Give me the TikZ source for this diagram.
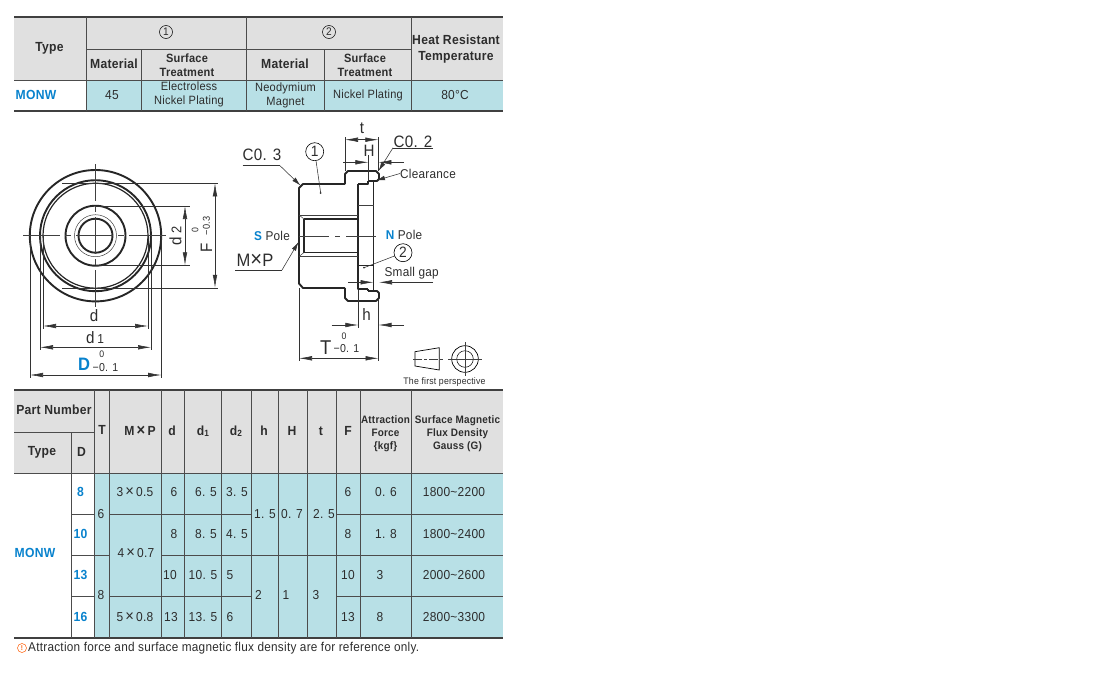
\documentclass[tikz,border=0pt]{standalone}
\usepackage{fontspec}
\setmainfont[FakeStretch=0.92,LetterSpace=2]{Liberation Sans}
\usetikzlibrary{arrows.meta}
\definecolor{headgray}{RGB}{224,224,224}
\definecolor{cellblue}{RGB}{184,224,230}
\definecolor{keyblue}{RGB}{8,130,205}
\definecolor{inkgray}{RGB}{45,45,45}
\newcommand{\lowidx}[1]{\raisebox{-1pt}{\fontsize{9}{9}\selectfont #1}}
\newcommand{\mulsign}{\,{\fontsize{16}{14}\selectfont ×}\,}
\begin{document}
\begin{tikzpicture}[x=1pt,y=-1pt,
      every node/.style={inner sep=0pt,align=center,text=inkgray},
      heavy/.style={line width=1.9pt,black!85,line join=round},
      medium/.style={line width=1.2pt,black!85},
      fine/.style={line width=0.5pt,black!75},
      rule/.style={line width=1pt,black!70},
      tablerule/.style={line width=1.8pt,black!75},
      dimline/.style={line width=0.55pt,black!80},
      dimtips/.style={dimline,{Latex[length=13pt,width=4.6pt]}-{Latex[length=13pt,width=4.6pt]}},
      pointtip/.style={dimline,-{Latex[length=13pt,width=4.6pt]}},
      leadtip/.style={dimline,-{Latex[length=9pt,width=4.6pt]}},
      centerline/.style={line width=0.7pt,black!75,dash pattern=on 37pt off 5pt on 6pt off 5pt},
      head/.style={font=\fontsize{13.2}{14}\bfseries\selectfont},
      headsmall/.style={font=\fontsize{12}{14}\bfseries\selectfont},
      headtight/.style={font=\fontsize{10.8}{13}\bfseries\selectfont},
      val/.style={font=\fontsize{13}{14}\selectfont},
      valsmall/.style={font=\fontsize{12}{14}\selectfont},
      note/.style={font=\fontsize{12.8}{14}\selectfont},
      big/.style={font=\fontsize{16.5}{17}\selectfont},
      tiny/.style={font=\fontsize{9.5}{9}\selectfont},
      smallval/.style={font=\fontsize{11.5}{12}\selectfont},
      key/.style={font=\fontsize{13.2}{14}\bfseries\selectfont,text=keyblue},
      balloon/.style={circle,draw,line width=0.6pt,minimum size=18pt,font=\fontsize{15}{15}\selectfont}]
    \useasboundingbox (0,0) rectangle (1100,672);

    \fill[headgray] (14,17) rectangle (503,80.5);
    \fill[cellblue] (86,80.5) rectangle (503,111);
    \fill[headgray] (14,390) rectangle (503,473);
    \fill[cellblue] (94.5,473) rectangle (503,637);

    \draw[tablerule] (14,17) -- (503,17);
    \draw[tablerule] (14,111) -- (503,111);
    \draw[rule] (86,49) -- (411,49);
    \draw[rule] (14,80.5) -- (503,80.5);
    \foreach \colx in {86,246.5,411}
      \draw[rule] (\colx,17) -- (\colx,111);
    \foreach \colx in {141,324}
      \draw[rule] (\colx,49) -- (\colx,111);

    \draw[tablerule] (14,390) -- (503,390);
    \draw[tablerule] (14,638) -- (503,638);
    \draw[rule] (14,432) -- (94.5,432);
    \draw[rule] (14,473) -- (503,473);
    \draw[rule] (71,432) -- (71,638);
    \foreach \colx in {94.5,109.5,161.5,184,221.5,251.5,278.5,307.5,336.5,360.5,411.5}
      \draw[rule] (\colx,390) -- (\colx,638);
    \foreach \rowy in {514.5,596.5} {
      \draw[rule] (71,\rowy) -- (94.5,\rowy);
      \draw[rule] (109.5,\rowy) -- (251.5,\rowy);
      \draw[rule] (336.5,\rowy) -- (503,\rowy);
    }
    \draw[rule] (71,555.5) -- (109.5,555.5);
    \draw[rule] (161.5,555.5) -- (503,555.5);

    \node[head] (typeA) at (49.5,48) {Type};
    \node[balloon,minimum size=13pt,line width=0.5pt,font=\fontsize{11}{11}\selectfont] (partA) at (166,32) {1};
    \node[balloon,minimum size=13pt,line width=0.5pt,font=\fontsize{11}{11}\selectfont] (partB) at (329,32) {2};
    \foreach \tx/\ty/\ttext [count=\i] in {114/64/Material,285/64/Material,456/49/{Heat Resistant\\[2pt]Temperature}}
      \node[head] (headA\i) at (\tx,\ty) {\ttext};
    \foreach \tx/\ty [count=\i] in {187/65,365/65}
      \node[headsmall] (treat\i) at (\tx,\ty) {Surface\\Treatment};
    \node[key] (seriesA) at (36,95) {MONW};
    \foreach \tx/\ty/\ttext [count=\i] in {112/95/45,455/95/{80°C}}
      \node[val] (cellA\i) at (\tx,\ty) {\ttext};
    \foreach \tx/\ty/\ttext [count=\i] in {189/94.5/{Electroless\\Nickel Plating},
        285.5/95/{Neodymium\\Magnet},368/95/{Nickel Plating}}
      \node[valsmall] (finish\i) at (\tx,\ty) {\ttext};

    \foreach \tx/\ty/\ttext [count=\i] in {54/410/{Part Number},42/452/Type,81.5/452/D,102/430/T,
        140/431/{M\mulsign P},172/431/d,203/431/{d\lowidx{1}},236/431/{d\lowidx{2}},264/431/h,292/431/H,321/431/t,348/431/F}
      \node[head] (headB\i) at (\tx,\ty) {\ttext};
    \node[headtight] (headforce) at (385.5,433.5) {Attraction\\Force\\\{kgf\}};
    \node[headtight] (headgauss) at (457.5,433.5) {Surface Magnetic\\Flux Density\\Gauss (G)};
    \node[key] (seriesB) at (35,553) {MONW};
    \foreach \ty/\ttext [count=\i] in {492/8,534/10,575/13,617/16}
      \node[key] (sizeD\i) at (80.5,\ty) {\ttext};
    \foreach \tx/\ty/\ttext [count=\i] in {101/514/6,101/595/8,135/492/{3\mulsign 0.5},136/553/{4\mulsign 0.7},135/617/{5\mulsign 0.8},
        174/492/6,174/534/8,170/575/10,171/617/13,
        206/492/{6. 5},206/534/{8. 5},203/575/{10. 5},203/617/{13. 5},
        237/492/{3. 5},237/534/{4. 5},230/575/5,230/617/6,
        265/514/{1. 5},258.5/595/2,292/514/{0. 7},286/595/1,324/514/{2. 5},316/595/3,
        348/492/6,348/534/8,348/575/10,348/617/13,
        386/492/{0. 6},386/534/{1. 8},380/575/3,380/617/8,
        454/492/1800\string~2200,454/534/1800\string~2400,454/575/2000\string~2600,454/617/2800\string~3300}
      \node[val] (cellB\i) at (\tx,\ty) {\ttext};

    \node[circle,draw=orange!70!red,line width=0.5pt,minimum size=9pt,text=orange!70!red,font=\fontsize{7}{7}\bfseries\selectfont] (warn) at (22,648) {!};
    \node[note,right] (footnote) at (28,648) {Attraction force and surface magnetic flux density are for reference only.};

    \foreach \rad in {65.7,55.5,30,17}
      \draw[heavy] (95.5,235.7) circle (\rad pt);
    \draw[medium] (95.5,235.7) circle (52.5pt);
    \draw[fine] (95.5,235.7) circle (21pt);
    \draw[centerline] (23,235.7) -- (169,235.7);
    \draw[centerline] (95.5,164) -- (95.5,307);

    \draw[dimline] (62,183.3) -- (218,183.3);
    \draw[dimline] (62,287.8) -- (218,287.8);
    \draw[dimline] (95.5,206) -- (190,206);
    \draw[dimline] (95.5,265.3) -- (190,265.3);
    \draw[dimtips] (215,183.3) -- (215,287.8);
    \draw[dimtips] (185,206) -- (185,265.3);
    \draw[dimline] (30,236) -- (30,378);
    \draw[dimline] (161.2,236) -- (161.2,378);
    \draw[dimline] (40,236) -- (40,350);
    \draw[dimline] (151,236) -- (151,350);
    \draw[dimline] (43,236) -- (43,329);
    \draw[dimline] (148,236) -- (148,329);
    \draw[dimtips] (30,375) -- (161.2,375);
    \draw[dimtips] (40,347.3) -- (151,347.3);
    \draw[dimtips] (43,326) -- (148,326);

    \node[big] (labd) at (94,315.5) {d};
    \node[big] (labdone) at (95,338) {d\,\fontsize{13}{13}\selectfont 1};
    \node[font=\fontsize{18}{18}\bfseries\selectfont,text=keyblue] (labD) at (84,364.5) {D};
    \node[tiny] (labDup) at (101.7,354) {0};
    \node[smallval] (labDlow) at (105.5,367.5) {−0. 1};
    \node[big,rotate=90] (labdtwo) at (175.5,236) {d\,\fontsize{14}{14}\selectfont 2};
    \node[big,rotate=90] (labF) at (206.5,248) {F};
    \node[tiny,rotate=90] (labFup) at (195,230) {0};
    \node[rotate=90,font=\fontsize{10}{10}\selectfont] (labFlow) at (206.5,226) {−0.3};

    \draw[heavy] (345,184) -- (303,184) -- (299,188) -- (299,283.5) -- (303,288) -- (345,288);
    \draw[heavy] (345,184) -- (345,174) -- (348,171) -- (376,171) -- (379,174) -- (379,179)
      -- (377,181) -- (368,181);
    \draw[heavy] (345,288) -- (345,298) -- (348,301) -- (376,301) -- (379,298) -- (379,293)
      -- (377,291) -- (368,291);
    \draw[heavy] (358,184) -- (358,289) -- (368,289);
    \draw[heavy] (358,184) -- (368,184) -- (368,181);
    \draw[heavy] (368,289) -- (368,291);
    \draw[heavy] (373.5,181) -- (373.5,291);
    \draw[medium] (304,219) -- (358,219);
    \draw[medium] (304,252.5) -- (358,252.5);
    \draw[heavy] (304,219) -- (304,252.5);
    \draw[fine] (299,215) -- (358,215);
    \draw[fine] (299,256.5) -- (358,256.5);
    \draw[fine] (299,215) -- (304,219);
    \draw[fine] (299,256.5) -- (304,252.5);
    \draw[fine] (358,205.7) -- (373.5,205.7);
    \draw[medium] (358,265.7) -- (373.5,265.7);
    \draw[centerline,dash pattern=on 30pt off 6pt on 5pt off 6pt] (299,236) -- (378,236);

    \coordinate (tleft) at (345,139.7);
    \coordinate (tright) at (378.3,139.7);
    \draw[dimline] (345,137) -- (345,171);
    \draw[dimline] (378.3,137) -- (378.3,171);
    \draw[dimtips] (tleft) -- (tright);
    \node[big] (labt) at (362,128) {t};

    \coordinate (Hleft) at (343,162.3);
    \coordinate (Hin) at (368.3,162.3);
    \coordinate (Hout) at (378.3,162.3);
    \coordinate (Hright) at (404,162.3);
    \draw[dimline] (368.3,155) -- (368.3,181);
    \draw[pointtip] (Hleft) -- (Hin);
    \draw[pointtip] (Hright) -- (Hout);
    \node[big] (labH) at (369,150.5) {H};

    \node[big] (labCa) at (413,141.5) {C0. 2};
    \coordinate (Cabar) at (393,147.8);
    \coordinate (Caend) at (433,147.8);
    \coordinate (Catip) at (378.5,171);
    \draw[dimline] (Caend) -- (Cabar);
    \draw[leadtip] (Cabar) -- (Catip);

    \node[big] (labCb) at (262,155) {C0. 3};
    \coordinate (Cbbar) at (280,165.7);
    \coordinate (Cbend) at (242.7,165.7);
    \coordinate (Cbtip) at (300.5,185.5);
    \draw[dimline] (Cbend) -- (Cbbar);
    \draw[leadtip] (Cbbar) -- (Cbtip);

    \node[balloon] (itemA) at (314.7,151.7) {1};
    \node[balloon] (itemB) at (403,252.7) {2};
    \fill[black!80] (320.7,193) circle (1pt) coordinate (dotA);
    \fill[black!80] (364,267.7) circle (1pt) coordinate (dotB);
    \draw[dimline] (itemA) -- (dotA);
    \draw[dimline] (itemB) -- (dotB);

    \node[note,right] (labclear) at (400,173.5) {Clearance};
    \coordinate (cleartip) at (376,180.5);
    \draw[leadtip] (labclear.west) -- (cleartip);

    \node[note] (labS) at (272,235.5) {\textcolor{keyblue}{\bfseries S} Pole};
    \node[note] (labN) at (404,234.5) {\textcolor{keyblue}{\bfseries N} Pole};

    \node[font=\fontsize{18}{18}\selectfont] (labMP) at (255,260) {M{\fontsize{22}{18}\selectfont ×}P};
    \coordinate (MPend) at (235,270);
    \coordinate (MPbar) at (282,270);
    \coordinate (MPtip) at (298.5,242);
    \draw[dimline] (MPend) -- (MPbar);
    \draw[leadtip] (MPbar) -- (MPtip);

    \node[note] (labgap) at (411.7,273.5) {Small gap};
    \coordinate (gapleft) at (348,282.3);
    \coordinate (gapin) at (373.5,282.3);
    \coordinate (gapout) at (379,282.3);
    \coordinate (gapright) at (433,282.3);
    \draw[pointtip] (gapleft) -- (gapin);
    \draw[pointtip] (gapright) -- (gapout);

    \coordinate (hleft) at (331.7,325);
    \coordinate (hin) at (358.3,325);
    \coordinate (hout) at (378.5,325);
    \coordinate (hright) at (404,325);
    \draw[dimline] (358.3,290) -- (358.3,328);
    \draw[dimline] (378.5,300) -- (378.5,361);
    \draw[pointtip] (hleft) -- (hin);
    \draw[pointtip] (hright) -- (hout);
    \node[big] (labh) at (366.5,315) {h};

    \coordinate (Tleft) at (299,358.3);
    \coordinate (Tright) at (378.5,358.3);
    \draw[dimline] (299,288) -- (299,361);
    \draw[dimtips] (Tleft) -- (Tright);
    \node[big,font=\fontsize{20}{20}\selectfont] (labT) at (325.7,348) {T};
    \node[tiny] (labTup) at (344,336) {0};
    \node[smallval] (labTlow) at (346.5,349) {−0. 1};

    \draw[line width=0.7pt] (415,351.7) -- (439.3,347.7) -- (439.3,370) -- (415,366) -- cycle;
    \draw[fine,dash pattern=on 9pt off 2pt on 3pt off 2pt] (413,359) -- (443,359);
    \draw[line width=0.7pt] (465,359) circle (13.3pt);
    \draw[line width=0.5pt] (465,359) circle (8.3pt);
    \draw[fine] (448,359) -- (482,359);
    \draw[fine] (465,342) -- (465,376);
    \node[font=\fontsize{9.5}{9}\selectfont] (labview) at (444.5,382) {The first perspective};
  \end{tikzpicture}
\end{document}
